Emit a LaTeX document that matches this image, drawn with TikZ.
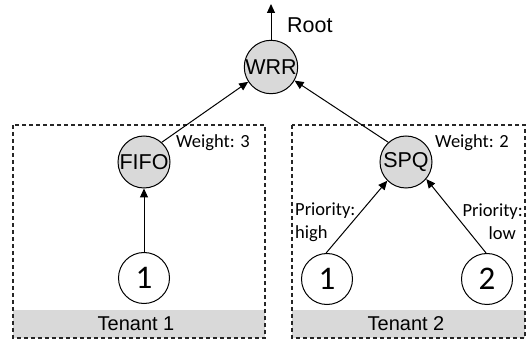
\documentclass[tikz,border=0pt]{standalone}
\usepackage{fontspec}
\setmainfont{Liberation Sans}
\newfontfamily\calibfont{Carlito}
\usetikzlibrary{arrows.meta}
\definecolor{nodegray}{HTML}{D9D9D9}
\tikzset{
  sched/.style={circle,draw=black,line width=1pt,fill=nodegray,minimum size=52pt,inner sep=0pt,font=\fontsize{21.5}{23}\selectfont},
  queue/.style={circle,draw=black,line width=1pt,fill=white,minimum size=51pt,inner sep=0pt,font=\calibfont\fontsize{33}{35}\selectfont},
  link/.style={line width=1pt,-{Triangle[length=9pt,width=8pt]}},
  tenantbox/.style={draw=black!85,line width=1.2pt,dash pattern=on 4pt off 3pt},
  band/.style={fill=nodegray,draw=none},
  lbl/.style={font=\calibfont\fontsize{18.5}{23}\selectfont,inner sep=0pt},
  tenantlbl/.style={font=\fontsize{20}{22}\selectfont,inner sep=0pt}
}
\begin{document}
\begin{tikzpicture}[x=1pt,y=-1pt]
\useasboundingbox (0,0) rectangle (531,350);
% tenant boxes
\fill[band] (13,310) rectangle (265,338);
\fill[band] (292,310) rectangle (525,338);
\draw[tenantbox] (13,125) rectangle (265,338);
\draw[tenantbox] (292,125) rectangle (525,338);
\node[tenantlbl] (t1) at (136,324) {Tenant 1};
\node[tenantlbl] (t2) at (406,324) {Tenant 2};
% nodes
\node[sched] (wrr) at (271,67) {WRR};
\node[sched] (fifo) at (144,162) {FIFO};
\node[sched] (spq) at (406,162) {SPQ};
\node[queue] (l1) at (144,278) {1};
\node[queue] (r1) at (327,279) {1};
\node[queue] (r2) at (487,279) {2};
\coordinate (root) at (271,4);
\node[anchor=west,inner sep=0pt,font=\fontsize{21.5}{23}\selectfont] (rootlbl) at (287,25) {Root};
% labels
\node[lbl,anchor=west] (w3) at (176,143) {Weight: 3};
\node[lbl,anchor=west] (w2) at (435,143) {Weight: 2};
\node[lbl,anchor=west,align=left] (ph) at (295,222) {Priority:\\high};
\node[lbl,anchor=east,align=right] (pl) at (523,222) {Priority:\\low\hspace*{7pt}};
% connectors
\draw[link] (wrr) -- (root);
\draw[link] (fifo.48) -- (wrr.213);
\draw[link] (spq.132) -- (wrr.330);
\draw[link] (l1) -- (fifo);
\draw[link] (r1.92) -- (spq.225);
\draw[link] (r2.92) -- (spq.320);
\end{tikzpicture}
\end{document}
